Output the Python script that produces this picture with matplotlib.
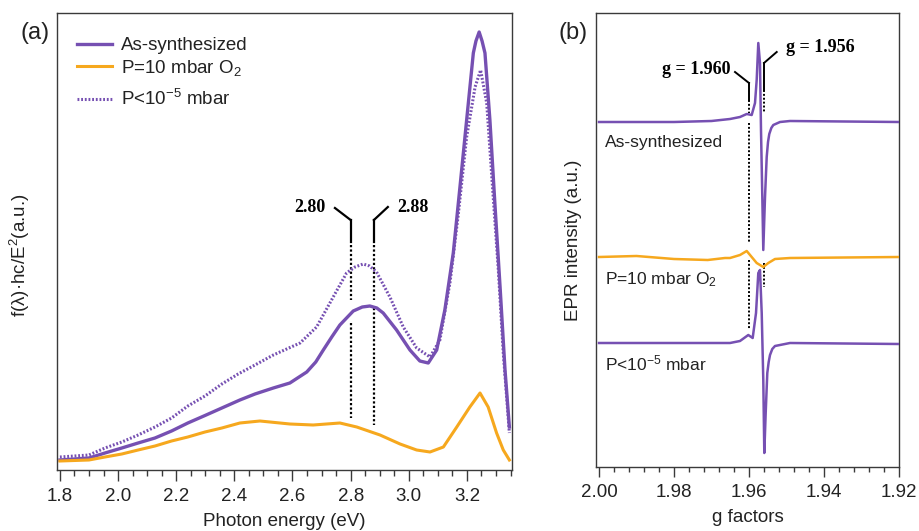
import matplotlib
matplotlib.use("Agg")
import matplotlib.pyplot as plt
from matplotlib.ticker import MultipleLocator

plt.rcParams['font.family'] = ['Liberation Sans', 'DejaVu Sans']
plt.rcParams['mathtext.fontset'] = 'custom'
plt.rcParams['mathtext.rm'] = 'Liberation Sans'
plt.rcParams['mathtext.it'] = 'Liberation Sans:italic'

PURPLE = '#7650b2'
ORANGE = '#f6a81e'
SPINE = '#3a3a3a'
TXT = '#222222'

# ---------------- Panel (a) data ----------------
E_as = [1.80, 1.90, 1.955, 2.013, 2.069, 2.127, 2.184, 2.240, 2.299, 2.357, 2.419, 2.471,
        2.534, 2.591, 2.649, 2.680, 2.706, 2.735, 2.763, 2.809, 2.840, 2.866, 2.890, 2.912,
        2.958, 3.004, 3.038, 3.067, 3.096, 3.124, 3.153, 3.176, 3.199, 3.222, 3.231, 3.242,
        3.252, 3.262, 3.279, 3.296, 3.314, 3.331, 3.346]
I_as = [0.10, 0.12, 0.17, 0.22, 0.27, 0.32, 0.39, 0.47, 0.545, 0.62, 0.70, 0.76,
        0.82, 0.87, 0.98, 1.08, 1.20, 1.33, 1.45, 1.59, 1.63, 1.64, 1.62, 1.57,
        1.40, 1.20, 1.09, 1.07, 1.20, 1.60, 2.17, 2.83, 3.50, 4.17, 4.29, 4.38,
        4.29, 4.17, 3.50, 2.67, 1.83, 1.00, 0.43]

E_o2 = [1.80, 1.90, 1.955, 2.013, 2.069, 2.127, 2.184, 2.240, 2.299, 2.357, 2.419, 2.488,
        2.591, 2.671, 2.763, 2.821, 2.901, 2.970, 3.027, 3.073, 3.119, 3.165, 3.210, 3.245,
        3.273, 3.302, 3.325, 3.346]
I_o2 = [0.09, 0.10, 0.13, 0.16, 0.20, 0.24, 0.29, 0.33, 0.38, 0.42, 0.47, 0.49,
        0.46, 0.45, 0.47, 0.43, 0.35, 0.26, 0.20, 0.18, 0.23, 0.43, 0.63, 0.77,
        0.63, 0.37, 0.20, 0.10]

E_vac = [1.80, 1.90, 1.955, 2.013, 2.069, 2.127, 2.184, 2.240, 2.299, 2.357, 2.413, 2.471,
         2.534, 2.626, 2.683, 2.740, 2.786, 2.815, 2.843, 2.865, 2.889, 2.935, 2.981, 3.027,
         3.073, 3.107, 3.142, 3.170, 3.199, 3.228, 3.247, 3.268, 3.288, 3.308, 3.325, 3.346]
I_vac = [0.13, 0.15, 0.22, 0.28, 0.35, 0.43, 0.52, 0.64, 0.74, 0.86, 0.96, 1.05,
         1.15, 1.27, 1.43, 1.73, 1.97, 2.03, 2.06, 2.04, 1.98, 1.73, 1.43, 1.22,
         1.13, 1.30, 1.88, 2.55, 3.33, 3.83, 4.00, 3.67, 2.83, 2.00, 1.17, 0.37]

peak_marks = [2.80, 2.88]
peak_labels = ['2.80', '2.88']
xticks_a = [1.8, 2.0, 2.2, 2.4, 2.6, 2.8, 3.0, 3.2]

# ---------------- Panel (b) data ----------------
g_as = [2.000, 1.980, 1.970, 1.96507, 1.96240, 1.96061, 1.95928, 1.95840, 1.95795, 1.95752,
        1.95707, 1.95680, 1.95645, 1.95619, 1.95573, 1.95528, 1.95493, 1.95459, 1.95405,
        1.95352, 1.95173, 1.94907, 1.920]
S_as = [3.45, 3.45, 3.46, 3.48, 3.50, 3.53, 3.52, 3.64, 3.87, 4.24,
        4.04, 3.37, 2.70, 2.17, 2.70, 3.10, 3.25, 3.33, 3.39,
        3.42, 3.45, 3.46, 3.45]

g_o2 = [2.000, 1.990, 1.980, 1.971, 1.9664, 1.96507, 1.9624, 1.96061, 1.95928, 1.95795,
        1.95619, 1.95485, 1.95307, 1.94907, 1.920]
S_o2 = [2.10, 2.11, 2.08, 2.07, 2.09, 2.09, 2.12, 2.16, 2.10, 2.04,
        2.00, 2.04, 2.08, 2.09, 2.10]

g_vac = [2.000, 1.973, 1.96507, 1.9624, 1.96019, 1.95902, 1.95813, 1.95752, 1.95707, 1.95661,
         1.95619, 1.95592, 1.95555, 1.95512, 1.95475, 1.9544, 1.95379, 1.95307, 1.94907, 1.920]
S_vac = [1.24, 1.24, 1.24, 1.26, 1.32, 1.29, 1.54, 1.94, 1.97, 1.54,
         0.87, 0.14, 0.54, 0.94, 1.05, 1.12, 1.18, 1.21, 1.24, 1.23]

g_marks = [1.960, 1.956]
g_labels = ['g = 1.960', 'g = 1.956']
xticks_b = [2.00, 1.98, 1.96, 1.94, 1.92]

W, H = 919, 531
fig = plt.figure(figsize=(W / 100, H / 100), dpi=100)

def rect(l, t, r, b):
    return [l / W, 1 - b / H, (r - l) / W, (b - t) / H]

FS = 13.5
SERIF = dict(family='Liberation Serif', weight='bold', fontsize=13)

# ---------------- Panel (a) ----------------
axa = fig.add_axes(rect(57, 13, 512, 470))
h1, = axa.plot(E_as, I_as, color=PURPLE, lw=2.4, label='As-synthesized', zorder=3)
h2, = axa.plot(E_o2, I_o2, color=ORANGE, lw=2.2, label='P=10 mbar O$_2$', zorder=3)
h3, = axa.plot(E_vac, I_vac, color=PURPLE, lw=2.2, ls=(0, (0.6, 0.6)),
               label='P<10$^{-5}$ mbar', zorder=3)
axa.set_xlim(1.79, 3.355)
axa.set_ylim(0, 4.57)
axa.set_xticks(xticks_a)
axa.set_xticklabels([f'{v:.1f}' for v in xticks_a])
axa.xaxis.set_minor_locator(MultipleLocator(0.05))
axa.set_yticks([])
axa.tick_params(axis='x', which='major', direction='out', length=8, width=1.0,
                colors=SPINE, labelsize=FS, labelcolor=TXT, pad=5)
axa.tick_params(axis='x', which='minor', direction='out', length=4.5, width=1.0, colors=SPINE)
for s in axa.spines.values():
    s.set_color(SPINE)
    s.set_linewidth(1.0)
axa.set_xlabel('Photon energy (eV)', fontsize=FS, color=TXT, labelpad=6)
axa.set_ylabel('f(λ)·hc/E$^2$(a.u.)', fontsize=FS, color=TXT)
axa.yaxis.set_label_coords(-25 / 455, 0.47)

leg_kw = dict(loc='upper left', frameon=False, fontsize=FS, handlelength=1.85,
              handletextpad=0.5, labelspacing=0.2, borderpad=0, borderaxespad=0)
leg1 = axa.legend(handles=[h1, h2], bbox_to_anchor=(20 / 455, 1 - 24 / 457), **leg_kw)
axa.add_artist(leg1)
leg2 = axa.legend(handles=[h3], bbox_to_anchor=(20 / 455, 1 - 76 / 457), **leg_kw)
for lg in (leg1, leg2):
    for t in lg.get_texts():
        t.set_color(TXT)

# annotation lines for 2.80 / 2.88
ann_k = dict(color='black', lw=1.6, zorder=2)
dot_k = dict(color='black', lw=1.6, ls=(0, (1, 1)), zorder=2)
axa.plot([peak_marks[0], peak_marks[0]], [2.28, 2.50], **ann_k)
axa.plot([peak_marks[0], 2.746], [2.50, 2.62], **ann_k)
axa.plot([peak_marks[0], peak_marks[0]], [2.25, 1.70], **dot_k)
axa.plot([peak_marks[0], peak_marks[0]], [1.47, 0.52], **dot_k)
axa.text(2.712, 2.63, peak_labels[0], ha='right', va='center', **SERIF)
axa.plot([peak_marks[1], peak_marks[1]], [2.28, 2.50], **ann_k)
axa.plot([peak_marks[1], 2.928], [2.50, 2.63], **ann_k)
axa.plot([peak_marks[1], peak_marks[1]], [2.25, 1.70], **dot_k)
axa.plot([peak_marks[1], peak_marks[1]], [1.62, 0.45], **dot_k)
axa.text(2.959, 2.63, peak_labels[1], ha='left', va='center', **SERIF)

# ---------------- Panel (b) ----------------
axb = fig.add_axes(rect(596, 13, 899, 467))
axb.plot(g_as, S_as, color=PURPLE, lw=1.8, zorder=3)
axb.plot(g_o2, S_o2, color=ORANGE, lw=1.8, zorder=3)
axb.plot(g_vac, S_vac, color=PURPLE, lw=1.8, zorder=3)
axb.set_xlim(2.0008, 1.920)
axb.set_ylim(0, 4.54)
axb.set_xticks(xticks_b)
axb.set_xticklabels([f'{v:.2f}' for v in xticks_b])
axb.xaxis.set_minor_locator(MultipleLocator(0.004))
axb.set_yticks([])
axb.tick_params(axis='x', which='major', direction='out', length=7, width=1.0,
                colors=SPINE, labelsize=FS, labelcolor=TXT, pad=5)
axb.tick_params(axis='x', which='minor', direction='out', length=3.5, width=1.0, colors=SPINE)
for s in axb.spines.values():
    s.set_color(SPINE)
    s.set_linewidth(1.0)
axb.set_xlabel('g factors', fontsize=FS, color=TXT, labelpad=6)
axb.set_ylabel('EPR intensity (a.u.)', fontsize=FS, color=TXT)
axb.yaxis.set_label_coords(-14 / 303, 0.5)

axb.text(1.9984, 3.24, 'As-synthesized', ha='left', va='center', fontsize=12.5, color=TXT)
axb.text(1.9984, 1.87, 'P=10 mbar O$_2$', ha='left', va='center', fontsize=12.5, color=TXT)
axb.text(1.9984, 1.04, 'P<10$^{-5}$ mbar', ha='left', va='center', fontsize=12.5, color=TXT)

dot_b = dict(color='black', lw=1.4, ls=(0, (1, 1)), zorder=2)
sol_b = dict(color='black', lw=1.4, zorder=2)
# g = 1.960
axb.plot([g_marks[0], g_marks[0]], [3.67, 3.84], **sol_b)
axb.plot([g_marks[0], 1.96373], [3.84, 3.95], **sol_b)
axb.plot([g_marks[0], g_marks[0]], [3.67, 3.54], **dot_b)
axb.plot([g_marks[0], g_marks[0]], [3.44, 2.24], **dot_b)
axb.plot([g_marks[0], g_marks[0]], [2.07, 1.37], **dot_b)
axb.text(1.9648, 3.97, g_labels[0], ha='right', va='center', **SERIF)
# g = 1.956
axb.plot([g_marks[1], g_marks[1]], [3.77, 4.04], **sol_b)
axb.plot([g_marks[1], 1.95261], [4.04, 4.15], **sol_b)
axb.plot([g_marks[1], g_marks[1]], [3.77, 3.54], **dot_b)
axb.plot([g_marks[1], g_marks[1]], [2.04, 1.80], **dot_b)
axb.text(1.95013, 4.20, g_labels[1], ha='left', va='center', **SERIF)

fig.text(35 / W, 1 - 33 / H, '(a)', ha='center', va='center', fontsize=17, color=TXT)
fig.text(573 / W, 1 - 33 / H, '(b)', ha='center', va='center', fontsize=17, color=TXT)

fig.savefig('out.png', dpi=100)
